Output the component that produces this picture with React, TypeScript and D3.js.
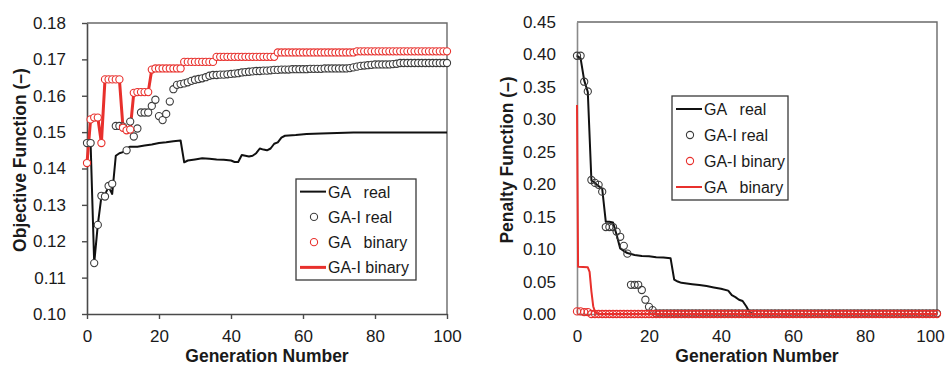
import { useEffect, useRef } from 'react';
import * as d3 from 'd3';

const FONT = '"Liberation Sans", Arial, sans-serif';

// ---- left panel: objective function ----
const objTicks = [0.10, 0.11, 0.12, 0.13, 0.14, 0.15, 0.16, 0.17, 0.18];
const genTicks = [0, 20, 40, 60, 80, 100];

// GA real (line), [generation, value]
const objGAReal: [number, number][] = [
  [0, 0.147], [1, 0.147], [2, 0.114], [3, 0.1245], [4, 0.1323], [5, 0.1328], [6, 0.135], [7, 0.133],
  [8, 0.1435], [9, 0.1442], [10, 0.1445], [11, 0.1455], [12, 0.146], [14, 0.146], [16, 0.1463],
  [18, 0.1466], [20, 0.147], [22, 0.1472], [24, 0.1475], [26, 0.1477], [27, 0.1417], [28, 0.1422],
  [30, 0.1425], [32, 0.1428], [34, 0.1427], [36, 0.1425], [38, 0.1424], [40, 0.1422], [41, 0.1418],
  [42, 0.1418], [43, 0.1437], [44, 0.1435], [45, 0.1433], [46, 0.1435], [47, 0.1442], [48, 0.1455],
  [49, 0.1452], [50, 0.145], [51, 0.1455], [52, 0.1468], [53, 0.1472], [54, 0.1485], [55, 0.149],
  [58, 0.1492], [61, 0.1495], [65, 0.1496], [74, 0.1499], [100, 0.1499],
];

// GA-I real (circles), one per generation 0..100
const objGAIReal = [
  0.1470, 0.1470, 0.1140, 0.1245, 0.1325, 0.1323, 0.1352, 0.1358, 0.1517, 0.1517,
  0.1515, 0.1450, 0.1529, 0.1488, 0.1510, 0.1554, 0.1554, 0.1554, 0.1572, 0.1589,
  0.1544, 0.1533, 0.1550, 0.1584, 0.1618, 0.1630, 0.1632, 0.1634, 0.1637, 0.1641,
  0.1644, 0.1646, 0.1648, 0.1651, 0.1655, 0.1657, 0.1657, 0.1658, 0.1658, 0.1659,
  0.1660, 0.1661, 0.1662, 0.1664, 0.1665, 0.1666, 0.1667, 0.1668, 0.1668, 0.1669,
  0.1669, 0.1670, 0.1671, 0.1671, 0.1672, 0.1672, 0.1672, 0.1673, 0.1673, 0.1673,
  0.1673, 0.1673, 0.1674, 0.1674, 0.1674, 0.1674, 0.1675, 0.1675, 0.1675, 0.1675,
  0.1675, 0.1675, 0.1675, 0.1676, 0.1678, 0.1680, 0.1682, 0.1683, 0.1684, 0.1685,
  0.1686, 0.1686, 0.1686, 0.1686, 0.1686, 0.1687, 0.1688, 0.1690, 0.1690, 0.1690,
  0.1690, 0.1690, 0.1690, 0.1690, 0.1690, 0.1690, 0.1690, 0.1690, 0.1690, 0.1690,
  0.1690,
];

// GA binary (circles); GA-I binary line runs through the same values
const objGABinary = [
  0.1415, 0.1535, 0.1540, 0.1540, 0.1470, 0.1645, 0.1645, 0.1645, 0.1645, 0.1645,
  0.1512, 0.1505, 0.1507, 0.1608, 0.1610, 0.1610, 0.1610, 0.1610, 0.1672, 0.1675,
  0.1675, 0.1675, 0.1675, 0.1675, 0.1675, 0.1675, 0.1675, 0.1693, 0.1693, 0.1693,
  0.1693, 0.1693, 0.1693, 0.1693, 0.1693, 0.1693, 0.1707, 0.1707, 0.1707, 0.1707,
  0.1707, 0.1707, 0.1707, 0.1707, 0.1707, 0.1707, 0.1707, 0.1707, 0.1707, 0.1707,
  0.1707, 0.1707, 0.1707, 0.1719, 0.1719, 0.1719, 0.1719, 0.1719, 0.1719, 0.1719,
  0.1719, 0.1719, 0.1719, 0.1719, 0.1719, 0.1719, 0.1719, 0.1719, 0.1719, 0.1719,
  0.1719, 0.1719, 0.1719, 0.1719, 0.1719, 0.1722, 0.1722, 0.1722, 0.1722, 0.1722,
  0.1722, 0.1722, 0.1722, 0.1722, 0.1722, 0.1722, 0.1722, 0.1722, 0.1722, 0.1722,
  0.1722, 0.1722, 0.1722, 0.1722, 0.1722, 0.1722, 0.1722, 0.1722, 0.1722, 0.1722,
  0.1722,
];
const objGAIBinary: [number, number][] = objGABinary.map((v, i) => [i, v]);

// ---- right panel: penalty function ----
const penTicks = [0, 0.05, 0.10, 0.15, 0.20, 0.25, 0.30, 0.35, 0.40, 0.45];

const penGAReal: [number, number][] = [
  [0, 0.398], [1, 0.394], [2, 0.36], [3, 0.342], [4, 0.206], [5, 0.202], [6, 0.197], [7, 0.193],
  [8, 0.142], [9, 0.142], [10, 0.141], [11, 0.122], [12, 0.101], [13, 0.097], [14, 0.094],
  [16, 0.091], [18, 0.0895], [20, 0.089], [22, 0.0875], [24, 0.087], [26, 0.0858], [27, 0.053],
  [28, 0.05], [29, 0.048], [30, 0.0475], [32, 0.046], [34, 0.0447], [36, 0.043], [38, 0.041],
  [40, 0.039], [42, 0.036], [43, 0.029], [44, 0.026], [45, 0.022], [46, 0.02], [47, 0.012],
  [48, 0.002], [49, 0], [100, 0],
];

const penGAIReal = [
  0.398, 0.398, 0.358, 0.343, 0.2065, 0.202, 0.199, 0.1885, 0.134, 0.134,
  0.134, 0.127, 0.119, 0.105, 0.093, 0.045, 0.045, 0.045, 0.037, 0.022,
  0.011, 0.006, 0.001, 0.001, 0.001, 0.001, 0.001, 0.001, 0.001, 0.001,
  0.001, 0.001, 0.001, 0.001, 0.001, 0.001, 0.001, 0.001, 0.001, 0.001,
  0.001, 0.001, 0.001, 0.001, 0.001, 0.001, 0.001, 0.001, 0.001, 0.001,
  0.001, 0.001, 0.001, 0.001, 0.001, 0.001, 0.001, 0.001, 0.001, 0.001,
  0.001, 0.001, 0.001, 0.001, 0.001, 0.001, 0.001, 0.001, 0.001, 0.001,
  0.001, 0.001, 0.001, 0.001, 0.001, 0.001, 0.001, 0.001, 0.001, 0.001,
  0.001, 0.001, 0.001, 0.001, 0.001, 0.001, 0.001, 0.001, 0.001, 0.001,
  0.001, 0.001, 0.001, 0.001, 0.001, 0.001, 0.001, 0.001, 0.001, 0.001,
  0.001,
];

const penGAIBinary = [
  0.004, 0.004, 0.003, 0.003, 0, 0, 0, 0, 0, 0,
  0, 0, 0, 0, 0, 0, 0, 0, 0, 0,
  0, 0, 0, 0, 0, 0, 0, 0, 0, 0,
  0, 0, 0, 0, 0, 0, 0, 0, 0, 0,
  0, 0, 0, 0, 0, 0, 0, 0, 0, 0,
  0, 0, 0, 0, 0, 0, 0, 0, 0, 0,
  0, 0, 0, 0, 0, 0, 0, 0, 0, 0,
  0, 0, 0, 0, 0, 0, 0, 0, 0, 0,
  0, 0, 0, 0, 0, 0, 0, 0, 0, 0,
  0, 0, 0, 0, 0, 0, 0, 0, 0, 0,
  0,
];

const penGABinary: [number, number][] = [
  [0, 0.322], [0.3, 0.073], [3, 0.072], [3.5, 0.065], [4, 0.035], [4.5, 0.012], [5, 0.003], [6, 0], [100, 0],
];

const RED = '#e8302c';
const BLACK = '#111';
const GREY_C = '#3c3c3c';

type Series =
  | { kind: 'line'; data: [number, number][]; color: string; width: number }
  | { kind: 'dots'; data: number[]; color: string; fill: string };

type LegendItem = { label: string; kind: 'line' | 'dots'; color: string; width?: number };

type PanelCfg = {
  left: number; right: number; top: number; bottom: number;
  yDomain: [number, number]; yTicks: number[]; tickSize: number; tickPad: number;
  axisColor: string; frameColor: string;
  yTitle: string; yTitleX: number;
  series: Series[];
  legend: { x: number; y: number; w: number; h: number; items: LegendItem[] };
};

function drawPanel(svg: d3.Selection<SVGSVGElement, unknown, null, undefined>, p: PanelCfg) {
  const x = d3.scaleLinear().domain([0, 100]).range([p.left, p.right]);
  const y = d3.scaleLinear().domain(p.yDomain).range([p.bottom, p.top]);
  const g = svg.append('g');

  // frame (top + right)
  g.append('path')
    .attr('d', `M${x(0)},${y(p.yDomain[1])}H${x(100)}V${y(p.yDomain[0])}`)
    .attr('fill', 'none').attr('stroke', p.frameColor).attr('stroke-width', 1.4);

  const styleAxis = (s: d3.Selection<SVGGElement, unknown, null, undefined>) => {
    s.select('.domain').attr('stroke', p.axisColor).attr('stroke-width', 1.6);
    s.selectAll('.tick line').attr('stroke', p.axisColor).attr('stroke-width', 1.4);
    s.selectAll('text').attr('fill', '#1a1a1a').attr('font-size', 17).attr('font-family', FONT);
  };

  g.append('g').attr('transform', `translate(0,${p.bottom})`)
    .call(d3.axisBottom(x).tickValues(genTicks).tickSize(p.tickSize).tickSizeOuter(0).tickPadding(p.tickPad).tickFormat(d3.format('d')))
    .call(styleAxis)
    // keep the last label inside the page edge
    .call(s => s.selectAll<SVGTextElement, number>('text').filter(d => x(d) + 16 > 946).attr('dx', -7));
  g.append('g').attr('transform', `translate(${p.left},0)`)
    .call(d3.axisLeft(y).tickValues(p.yTicks).tickSize(p.tickSize).tickSizeOuter(0).tickPadding(p.tickPad + 5).tickFormat(d3.format('.2f')))
    .call(styleAxis);

  // titles
  g.append('text').attr('x', (p.left + p.right) / 2).attr('y', 362)
    .attr('text-anchor', 'middle').attr('font-family', FONT).attr('font-weight', 'bold')
    .attr('font-size', 17.5).attr('fill', '#1a1a1a').text('Generation Number');
  g.append('text').attr('transform', `translate(${p.yTitleX},160) rotate(-90)`)
    .attr('text-anchor', 'middle').attr('font-family', FONT).attr('font-weight', 'bold')
    .attr('font-size', 17.5).attr('fill', '#1a1a1a').text(p.yTitle);

  const line = d3.line<[number, number]>().x(d => x(d[0])).y(d => y(d[1]));
  p.series.forEach(s => {
    if (s.kind === 'line') {
      g.append('path').datum(s.data).attr('fill', 'none')
        .attr('stroke', s.color).attr('stroke-width', s.width)
        .attr('stroke-linejoin', 'round').attr('d', line);
    } else {
      g.append('g').selectAll('circle').data(s.data).join('circle')
        .attr('cx', (_, i) => x(i)).attr('cy', d => y(d)).attr('r', 3.6)
        .attr('fill', s.fill).attr('stroke', s.color).attr('stroke-width', 1.1);
    }
  });

  // legend
  const L = p.legend;
  const lg = g.append('g').attr('transform', `translate(${L.x},${L.y})`);
  lg.append('rect').attr('width', L.w).attr('height', L.h)
    .attr('fill', '#fff').attr('stroke', '#3a3a3a').attr('stroke-width', 1.3);
  const step = L.h / L.items.length;
  L.items.forEach((it, i) => {
    const cy = step * (i + 0.5);
    if (it.kind === 'line') {
      lg.append('line').attr('x1', 4).attr('x2', 30).attr('y1', cy).attr('y2', cy)
        .attr('stroke', it.color).attr('stroke-width', it.width ?? 2);
    } else {
      lg.append('circle').attr('cx', 18).attr('cy', cy).attr('r', 3.6)
        .attr('fill', 'none').attr('stroke', it.color).attr('stroke-width', 1.1);
    }
    lg.append('text').attr('x', 32).attr('y', cy + 6)
      .attr('font-family', FONT).attr('font-size', 16).attr('fill', '#1a1a1a')
      .style('white-space', 'pre').text(it.label);
  });
}

export default function App() {
  const svgRef = useRef<SVGSVGElement>(null);

  useEffect(() => {
    if (!svgRef.current) return;
    const svg = d3.select(svgRef.current);
    svg.selectAll('*').remove();

    drawPanel(svg, {
      left: 87, right: 447, top: 23, bottom: 314,
      yDomain: [0.10, 0.18], yTicks: objTicks, tickSize: 5, tickPad: 11,
      axisColor: '#4a4a4a', frameColor: '#6a6a6a',
      yTitle: 'Objective Function (–)', yTitleX: 26,
      series: [
        { kind: 'line', data: objGAReal, color: BLACK, width: 2 },
        { kind: 'line', data: objGAIBinary, color: RED, width: 3 },
        { kind: 'dots', data: objGAIReal, color: GREY_C, fill: '#fff' },
        { kind: 'dots', data: objGABinary, color: RED, fill: '#fff' },
      ],
      legend: {
        x: 296, y: 179, w: 120, h: 101,
        items: [
          { label: 'GA   real', kind: 'line', color: BLACK, width: 2 },
          { label: 'GA-I real', kind: 'dots', color: GREY_C },
          { label: 'GA   binary', kind: 'dots', color: RED },
          { label: 'GA-I binary', kind: 'line', color: RED, width: 3 },
        ],
      },
    });

    drawPanel(svg, {
      left: 577, right: 937, top: 22, bottom: 314,
      yDomain: [0, 0.45], yTicks: penTicks, tickSize: 0, tickPad: 16,
      axisColor: '#8a8a8a', frameColor: '#6a6a6a',
      yTitle: 'Penalty Function (–)', yTitleX: 513,
      series: [
        { kind: 'line', data: penGAReal, color: BLACK, width: 2 },
        { kind: 'dots', data: penGAIReal, color: GREY_C, fill: 'none' },
        { kind: 'dots', data: penGAIBinary, color: RED, fill: 'none' },
        { kind: 'line', data: penGABinary, color: RED, width: 2 },
      ],
      legend: {
        x: 672, y: 96, w: 116, h: 104,
        items: [
          { label: 'GA   real', kind: 'line', color: BLACK, width: 2 },
          { label: 'GA-I real', kind: 'dots', color: GREY_C },
          { label: 'GA-I binary', kind: 'dots', color: RED },
          { label: 'GA   binary', kind: 'line', color: RED, width: 2 },
        ],
      },
    });
  }, []);

  return (
    <div style={{ position: 'fixed', left: 0, top: 0, background: '#fff' }}>
      <svg ref={svgRef} width={946} height={367} style={{ display: 'block' }} />
    </div>
  );
}
